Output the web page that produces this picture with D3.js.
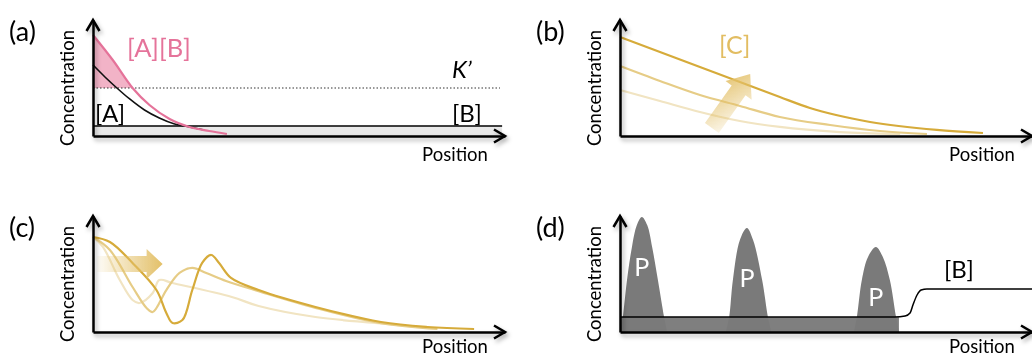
<!DOCTYPE html>
<html>
<head>
<meta charset="utf-8">
<script src="https://cdn.jsdelivr.net/npm/d3@7"></script>
<style>
    body { margin: 0; background: #fff; }
    text { font-family: Lato, "Open Sans", sans-serif; }
</style>
</head>
<body>
<svg id="chart" width="1032" height="359"></svg>
<script>
// values; position and concentration both run 0..100 on each panel
const posA = [0, 4.8, 9.6, 13.7, 18.6, 23.4, 28.2, 32.5];
const concAB = [87.1, 65.5, 41.4, 26.7, 14.7, 7.8, 4.3, 1.7];
const posA2 = [0, 2.9, 5.8, 8.9, 12.5, 16.1, 19.8, 23.4, 27.0];
const concA = [61.2, 50.9, 41.4, 31.9, 22.4, 15.5, 10.3, 7.8, 5.2];
const kPrime = 41.4;
const concB = 8.6;

const posC1 = [0, 9.7, 19.4, 29.1, 38.8, 46.1, 60.7, 76.9, 88.1];
const concC1 = [85.3, 72.4, 59.5, 46.6, 33.6, 24.1, 12.1, 5.2, 2.6];
const posC2 = [0, 9.7, 19.4, 29.1, 38.8, 51.0, 63.1, 74.5];
const concC2 = [60.3, 47.4, 35.3, 25.9, 16.4, 9.5, 4.3, 1.7];
const posC3 = [0, 9.7, 19.4, 29.1, 38.8, 53.4, 68.0];
const concC3 = [39.7, 30.2, 20.7, 12.9, 7.8, 3.4, 1.7];

const posW1 = [0, 4.1, 9.6, 15.4, 17.8, 19.3, 21.7, 24.1, 26.5, 28.7, 30.6, 33.5, 40.2, 54.0, 69.9, 81.2, 92.5];
const concW1 = [81.9, 77.6, 59.5, 36.2, 16.4, 7.8, 10.3, 36.2, 59.5, 66.4, 59.5, 46.6, 36.2, 21.6, 8.6, 4.3, 2.6];
const posW2 = [0, 4.1, 9.6, 13.0, 14.5, 17.8, 21.0, 24.1, 27.5, 32.3, 40.2, 54.0, 69.9, 83.6];
const concW2 = [81.9, 70.7, 38.8, 20.7, 17.2, 36.2, 50.9, 55.2, 50.9, 44.0, 35.2, 20.8, 7.6, 2.6];
const posW3 = [0, 2.4, 6.5, 9.6, 11.3, 14.5, 16.1, 19.3, 33.7, 40.2, 54.0, 68.4, 78.8];
const concW3 = [81.9, 73.3, 44.8, 27.6, 25.0, 33.6, 44.8, 42.2, 30.2, 22.4, 12.9, 7.8, 4.3];

const posD = [0, 66.7, 69.2, 70.4, 71.1, 72.1, 73.1, 74.5, 100];
const concD = [12.9, 12.9, 13.8, 16.4, 23.3, 31.9, 36.2, 37.1, 37.1];
const peakPos = [
    [0.2, 0.7, 1.7, 2.9, 4.1, 5.3, 6.6, 7.8, 9.2, 10.7, 11.4],
    [25.7, 26.5, 27.4, 29.1, 30.8, 32.3, 34.5, 35.9, 36.7],
    [56.8, 57.5, 58.7, 60.2, 62.1, 63.8, 65.5, 67.0, 67.7]
];
const peakConc = [
    [0, 12.9, 44.8, 73.3, 92.2, 99.1, 92.2, 73.3, 44.8, 12.9, 0],
    [0, 12.9, 44.8, 79.3, 89.7, 79.3, 44.8, 12.9, 0],
    [0, 12.9, 44.8, 64.7, 73.3, 64.7, 44.8, 12.9, 0]
];
const peakLabel = ["P", "P", "P"];

const pink = "#e5739a";
const gold = "#d6ab3a";

var svg = d3.select("#chart");
var defs = svg.append("defs");

defs.append("filter").attr("id", "shadow")
    .attr("x", "-10%").attr("y", "-10%").attr("width", "130%").attr("height", "160%")
    .append("feDropShadow")
    .attr("dx", 2).attr("dy", 3).attr("stdDeviation", 2)
    .attr("flood-color", "#000").attr("flood-opacity", 0.3);

function gradient(id, x1, y1, x2, y2) {
    var g = defs.append("linearGradient").attr("id", id)
        .attr("x1", x1).attr("y1", y1).attr("x2", x2).attr("y2", y2);
    g.append("stop").attr("offset", "0%").attr("stop-color", "#e3c068").attr("stop-opacity", 0.05);
    g.append("stop").attr("offset", "100%").attr("stop-color", "#e3c068").attr("stop-opacity", 1);
}
gradient("gradB", "0%", "100%", "100%", "0%");
gradient("gradC", "0%", "0%", "100%", "0%");

function zip(xs, ys) {
    return xs.map((d, i) => [d, ys[i]]);
}

// one panel: axes with open arrow heads, axis titles, letter
function panel(letter, left, top) {
    var x = d3.scaleLinear().domain([0, 100]).range([left, left + 412]);
    var y = d3.scaleLinear().domain([0, 100]).range([top + 116, top]);
    var g = svg.append("g");

    var axes = g.append("g").attr("filter", "url(#shadow)");
    axes.append("g")
        .attr("transform", "translate(0," + y(0) + ")")
        .call(d3.axisBottom(x).tickValues([]).tickSizeOuter(0));
    axes.append("g")
        .attr("transform", "translate(" + x(0) + ",0)")
        .call(d3.axisLeft(y).tickValues([]).tickSizeOuter(0));
    axes.selectAll(".domain").attr("stroke", "#000").attr("stroke-width", 2.5);
    axes.append("path")
        .attr("d", "M" + (x(0) - 6.5) + "," + (y(100) + 11) + "L" + x(0) + "," + y(100) + "L" + (x(0) + 6.5) + "," + (y(100) + 11))
        .attr("fill", "none").attr("stroke", "#000").attr("stroke-width", 2.5);
    axes.append("path")
        .attr("d", "M" + (x(100) - 11) + "," + (y(0) - 6.5) + "L" + x(100) + "," + y(0) + "L" + (x(100) - 11) + "," + (y(0) + 6.5))
        .attr("fill", "none").attr("stroke", "#000").attr("stroke-width", 2.5);

    g.append("text")
        .attr("transform", "translate(" + (x(0) - 19) + "," + (y(0) - 48) + ") rotate(-90)")
        .attr("text-anchor", "middle").attr("font-size", 18.5).attr("fill", "#000")
        .text("Concentration");
    g.append("text")
        .attr("x", x(100) - 50).attr("y", Math.min(y(0) + 25, 353))
        .attr("text-anchor", "middle").attr("font-size", 18.5).attr("fill", "#000")
        .text("Position");
    g.append("text")
        .attr("x", x(0) - 84).attr("y", y(100) + 21)
        .attr("font-size", 27).attr("fill", "#000")
        .text("(" + letter + ")");

    return { g: g, x: x, y: y, marks: g.insert("g", ":first-child") };
}

function line(p, curve) {
    return d3.line().x(d => p.x(d[0])).y(d => p.y(d[1])).curve(curve || d3.curveMonotoneX);
}

function arrow(p, g, from, to, shaft, head, headLen, fill) {
    var x1 = p.x(from[0]), y1 = p.y(from[1]), x2 = p.x(to[0]), y2 = p.y(to[1]);
    var len = Math.hypot(x2 - x1, y2 - y1);
    var ang = Math.atan2(y2 - y1, x2 - x1) * 180 / Math.PI;
    var pts = [[0, -shaft / 2], [len - headLen, -shaft / 2], [len - headLen, -head / 2], [len, 0],
               [len - headLen, head / 2], [len - headLen, shaft / 2], [0, shaft / 2]];
    g.append("path")
        .attr("transform", "translate(" + x1 + "," + y1 + ") rotate(" + ang + ")")
        .attr("d", "M" + pts.join("L") + "Z")
        .attr("fill", fill);
}

// (a)
var pa = panel("a", 93, 20);
var ab = zip(posA, concAB);
pa.marks.append("rect")
    .attr("x", pa.x(0)).attr("y", pa.y(concB))
    .attr("width", pa.x(99.3) - pa.x(0)).attr("height", pa.y(0) - pa.y(concB))
    .attr("fill", "#e9e9e9").attr("stroke", "none");
pa.marks.append("path")
    .datum(ab.filter(d => d[1] >= kPrime))
    .attr("d", d3.area().x(d => pa.x(d[0])).y0(pa.y(kPrime)).y1(d => pa.y(d[1])).curve(d3.curveMonotoneX))
    .attr("fill", "#f2b3c7");
pa.marks.append("line")
    .attr("x1", pa.x(0)).attr("x2", pa.x(99.3))
    .attr("y1", pa.y(concB)).attr("y2", pa.y(concB))
    .attr("stroke", "#000").attr("stroke-width", 1.5);
pa.marks.append("line")
    .attr("x1", pa.x(0)).attr("x2", pa.x(98.8))
    .attr("y1", pa.y(kPrime)).attr("y2", pa.y(kPrime))
    .attr("stroke", "#333").attr("stroke-width", 1.2).attr("stroke-dasharray", "1.5,2");
pa.marks.append("path").datum(zip(posA2, concA))
    .attr("d", line(pa)).attr("fill", "none").attr("stroke", "#111").attr("stroke-width", 1.6);
pa.marks.append("path").datum(ab)
    .attr("d", line(pa)).attr("fill", "none").attr("stroke", pink).attr("stroke-width", 2.2);
pa.g.append("text").attr("x", 127).attr("y", 57).attr("font-size", 25.5).attr("fill", pink).text("[A][B]");
pa.g.append("text").attr("x", 95).attr("y", 122).attr("font-size", 24).attr("fill", "#000").text("[A]");
pa.g.append("text").attr("x", 452).attr("y", 122).attr("font-size", 24).attr("fill", "#000").text("[B]");
pa.g.append("text").attr("x", 452).attr("y", 78).attr("font-size", 24).attr("font-style", "italic")
    .attr("fill", "#000").text("K\u2019");

// (b)
var pb = panel("b", 620, 20);
[[posC3, concC3, "#f1e4c2"], [posC2, concC2, "#e6cc86"], [posC1, concC1, gold]].forEach(s => {
    pb.marks.append("path").datum(zip(s[0], s[1]))
        .attr("d", line(pb)).attr("fill", "none").attr("stroke", s[2]).attr("stroke-width", 2.2);
});
arrow(pb, pb.marks, [22.3, 6.9], [31.6, 53.4], 17, 32, 20, "url(#gradB)");
pb.g.append("text").attr("x", 719).attr("y", 54).attr("font-size", 25).attr("fill", "#e2bd62").text("[C]");

// (c)
var pc = panel("c", 93, 216);
[[posW3, concW3, "#f1e4c2"], [posW2, concW2, "#e6cc86"], [posW1, concW1, gold]].forEach(s => {
    pc.marks.append("path").datum(zip(s[0], s[1]))
        .attr("d", line(pc, d3.curveCatmullRom)).attr("fill", "none").attr("stroke", s[2]).attr("stroke-width", 2.2);
});
arrow(pc, pc.marks, [1, 58.6], [16.9, 58.6], 16, 30, 16, "url(#gradC)");

// (d)
var pd = panel("d", 620, 216);
pd.marks.append("rect")
    .attr("x", pd.x(0)).attr("y", pd.y(concD[0]))
    .attr("width", pd.x(67.7) - pd.x(0)).attr("height", pd.y(0) - pd.y(concD[0]))
    .attr("fill", "#7f7f7f");
peakPos.forEach((ps, i) => {
    var pts = zip(ps, peakConc[i]);
    pd.marks.append("path").datum(pts)
        .attr("d", d3.area().x(d => pd.x(d[0])).y0(pd.y(0)).y1(d => pd.y(d[1])).curve(d3.curveCatmullRom))
        .attr("fill", "#7a7a7a");
    var top = pts[d3.maxIndex(pts, d => d[1])];
    pd.g.append("text")
        .attr("x", pd.x(top[0])).attr("y", pd.y(top[1]) + 59)
        .attr("text-anchor", "middle").attr("font-size", 25).attr("fill", "#fff")
        .text(peakLabel[i]);
});
pd.marks.append("path").datum(zip(posD, concD))
    .attr("d", line(pd)).attr("fill", "none").attr("stroke", "#000").attr("stroke-width", 1.5);
pd.g.append("text").attr("x", 944).attr("y", 278).attr("font-size", 24).attr("fill", "#000").text("[B]");
</script>
</body>
</html>
